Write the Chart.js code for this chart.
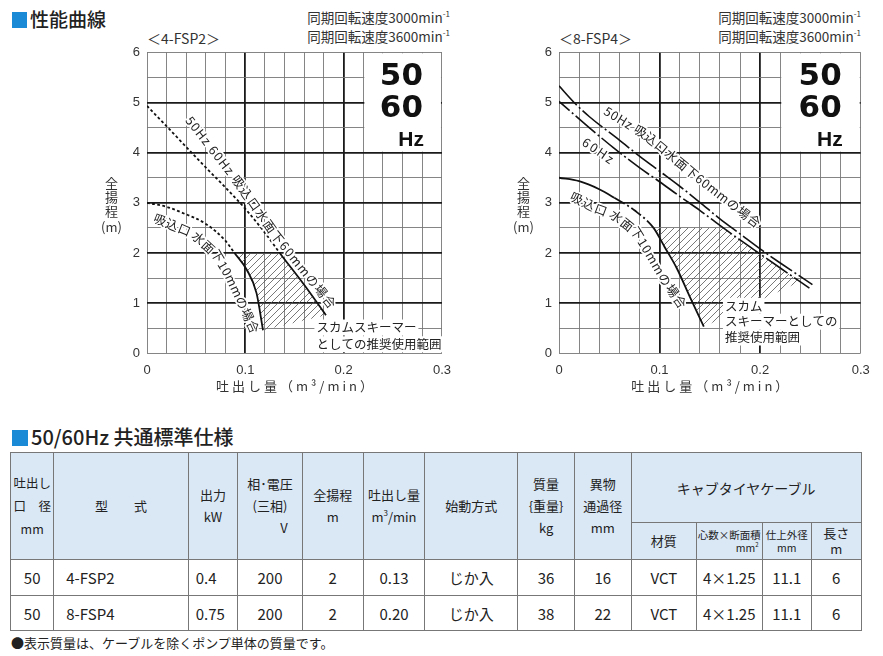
<!DOCTYPE html>
<html>
<head>
<meta charset="utf-8">
<script src="https://cdn.jsdelivr.net/npm/chart.js@4.4.1/dist/chart.umd.min.js"></script>
<style>
body { margin: 0; background: #fff; font-family: 'Noto Sans CJK JP', sans-serif; color: #222; }
#page { position: relative; width: 883px; height: 656px; overflow: hidden; }
.abs { position: absolute; white-space: nowrap; }
.sq { position: absolute; background: #1b8ad6; }
.head { font-size: 19px; font-weight: 500; line-height: 26px; }
.rpm { font-size: 13.5px; line-height: 19px; text-align: right; color: #333; }
.model { font-size: 14px; line-height: 16px; color: #333; }
sup { font-size: 8px; line-height: 0; vertical-align: 6px; }
canvas { position: absolute; top: 0; }
#spec { position: absolute; left: 10px; top: 452px; width: 850.7px; border-collapse: collapse; table-layout: fixed; }
#spec th, #spec td { border: 1px solid #777; padding: 0; text-align: center; font-weight: normal; white-space: nowrap; }
#spec th { background: #dae8f6; font-size: 13px; line-height: 22px; }
#spec th.sm { font-size: 10.5px; line-height: 13px; }
#spec td { font-size: 15px; height: 34.7px; }
#spec td.l { text-align: left; padding-left: 12px; }
#spec td.l2 { text-align: left; padding-left: 7px; }
</style>
</head>
<body>
<div id="page">
  <div class="sq" style="left:12px;top:12px;width:15px;height:16px"></div>
  <div class="abs head" style="left:30px;top:6px">性能曲線</div>
  <div class="abs model" style="left:147px;top:30px">＜4-FSP2＞</div>
  <div class="abs rpm" style="right:433px;top:8px">同期回転速度3000min<sup>-1</sup><br>同期回転速度3600min<sup>-1</sup></div>
  <div class="abs model" style="left:559px;top:30px">＜8-FSP4＞</div>
  <div class="abs rpm" style="right:22px;top:8px">同期回転速度3000min<sup>-1</sup><br>同期回転速度3600min<sup>-1</sup></div>

  <canvas id="fsp2" width="460" height="400" style="left:0"></canvas>
  <canvas id="fsp4" width="443" height="400" style="left:440px"></canvas>

  <div class="sq" style="left:12px;top:430px;width:16px;height:16px"></div>
  <div class="abs head" style="left:31px;top:424px;font-size:20px">50/60Hz 共通標準仕様</div>

  <table id="spec">
    <colgroup>
      <col style="width:43.3px"><col style="width:134.4px"><col style="width:49.6px"><col style="width:64.4px">
      <col style="width:61px"><col style="width:61.6px"><col style="width:93px"><col style="width:56.7px">
      <col style="width:56.7px"><col style="width:65.3px"><col style="width:65.7px"><col style="width:49.3px">
      <col style="width:49.7px">
    </colgroup>
    <thead>
      <tr style="height:70.4px">
        <th rowspan="2" style="font-size:12.5px;line-height:23px">吐出し<br>口　径<br>mm</th>
        <th rowspan="2">型　　式</th>
        <th rowspan="2">出力<br>kW</th>
        <th rowspan="2">相･電圧<br>(三相)<br><span style="padding-left:28px">V</span></th>
        <th rowspan="2">全揚程<br>m</th>
        <th rowspan="2">吐出し量<br>m<sup>3</sup>/min</th>
        <th rowspan="2">始動方式</th>
        <th rowspan="2">質量<br>{重量}<br>kg</th>
        <th rowspan="2">異物<br>通過径<br>mm</th>
        <th colspan="4" style="font-size:14px">キャブタイヤケーブル</th>
      </tr>
      <tr style="height:36.6px">
        <th>材質</th>
        <th class="sm">心数×断面積<div style="text-align:right;padding-right:3px">mm<sup style="font-size:6px;vertical-align:5px">2</sup></div></th>
        <th class="sm">仕上外径<br>mm</th>
        <th style="line-height:16px">長さ<br>m</th>
      </tr>
    </thead>
    <tbody id="rows"></tbody>
  </table>
  <div class="abs" style="left:11px;top:634px;font-size:13px;line-height:18px">●表示質量は、ケーブルを除くポンプ単体の質量です。</div>
</div>

<script>
// axis ticks
const xTicks = [0, 0.1, 0.2, 0.3];
const yTicks = [0, 1, 2, 3, 4, 5, 6];

// 4-FSP2 : discharge (m3/min) / head (m)
const fsp2Deep_q = [0, 0.026, 0.059, 0.082, 0.1, 0.12, 0.135, 0.16, 0.182];
const fsp2Deep_h = [4.93, 4.4, 3.72, 3.26, 2.88, 2.4, 2.0, 1.36, 0.76];
const fsp2Shallow_q = [0, 0.02, 0.036, 0.059, 0.079, 0.089, 0.1016, 0.1114, 0.118];
const fsp2Shallow_h = [3.0, 2.92, 2.8, 2.59, 2.26, 2.0, 1.66, 1.2, 0.46];
const fsp2Range_q = [0.089, 0.135, 0.16, 0.182, 0.118, 0.1114, 0.1016, 0.089];
const fsp2Range_h = [2.0, 2.0, 1.36, 0.76, 0.46, 1.2, 1.66, 2.0];

// 8-FSP4
const fsp4Upper_q = [0, 0.015, 0.03, 0.06, 0.08, 0.1, 0.12, 0.14, 0.16, 0.18, 0.2, 0.22, 0.252];
const fsp4Upper_h = [5.33, 5.0, 4.72, 4.25, 3.93, 3.63, 3.33, 3.01, 2.68, 2.38, 2.08, 1.8, 1.37];
const fsp4Lower_q = [0, 0.03, 0.054, 0.08, 0.1, 0.12, 0.14, 0.16, 0.18, 0.2, 0.22, 0.249];
const fsp4Lower_h = [5.02, 4.5, 4.1, 3.7, 3.42, 3.13, 2.85, 2.55, 2.26, 1.98, 1.7, 1.3];
const fsp4Shallow_q = [0, 0.02, 0.04, 0.055, 0.075, 0.094, 0.105, 0.117, 0.13, 0.144];
const fsp4Shallow_h = [3.5, 3.43, 3.27, 3.1, 2.85, 2.5, 2.12, 1.7, 1.13, 0.53];
const fsp4Range_q = [0.094, 0.1635, 0.18, 0.2, 0.22, 0.24, 0.144, 0.13, 0.117, 0.105, 0.094];
const fsp4Range_h = [2.5, 2.5, 2.26, 1.98, 1.7, 1.43, 0.53, 1.13, 1.7, 2.12, 2.5];

// spec table
const specRows = [
  ['50', '4-FSP2', '0.4', '200', '2', '0.13', 'じか入', '36', '16', 'VCT', '4×1.25', '11.1', '6'],
  ['50', '8-FSP4', '0.75', '200', '2', '0.20', 'じか入', '38', '22', 'VCT', '4×1.25', '11.1', '6']
];

document.getElementById('rows').innerHTML = specRows.map(r =>
  '<tr>' + r.map((v, i) => '<td' + (i === 1 ? ' class="l"' : i === 2 ? ' class="l2"' : '') + '>' + v + '</td>').join('') + '</tr>'
).join('');

function hatchPattern() {
  const c = document.createElement('canvas');
  c.width = c.height = 7;
  const g = c.getContext('2d');
  g.strokeStyle = '#555';
  g.lineWidth = 0.8;
  g.beginPath();
  g.moveTo(-1, 8); g.lineTo(8, -1);
  g.moveTo(-1, 1); g.lineTo(1, -1);
  g.moveTo(6, 8); g.lineTo(8, 6);
  g.stroke();
  return g.createPattern(c, 'repeat');
}
const hatch = hatchPattern();

const pts = (q, h) => q.map((v, i) => ({ x: v, y: h[i] }));

function curve(q, h, extra) {
  return Object.assign({
    data: pts(q, h), showLine: true, pointRadius: 0, borderColor: '#111', borderWidth: 1.8,
    cubicInterpolationMode: 'monotone', fill: false, order: 1
  }, extra);
}
function zone(q, h) {
  return {
    data: pts(q, h), showLine: true, pointRadius: 0, borderWidth: 0, borderColor: 'rgba(0,0,0,0)',
    backgroundColor: hatch, fill: 'shape', tension: 0, order: 10
  };
}

// place characters along a path given in data units
function drawAlong(ctx, chart, path, text) {
  const { x, y } = chart.scales;
  const p = path.map(([q, h]) => [x.getPixelForValue(q), y.getPixelForValue(h)]);
  const lens = [];
  let L = 0;
  for (let i = 1; i < p.length; i++) {
    const l = Math.hypot(p[i][0] - p[i - 1][0], p[i][1] - p[i - 1][1]);
    lens.push(l); L += l;
  }
  const ch = Array.from(text);
  const w = ch.map(c => ctx.measureText(c).width);
  let need = 0;
  for (let i = 1; i < ch.length; i++) need += (w[i - 1] + w[i]) / 2;
  const gap = ch.length > 1 ? (L - need) / (ch.length - 1) : 0;
  const placed = [];
  let s = 0;
  ch.forEach((c, i) => {
    if (i) s += (w[i - 1] + w[i]) / 2 + gap;
    let k = 0, r = s;
    while (k < lens.length - 1 && r > lens[k]) { r -= lens[k]; k++; }
    const t = lens[k] ? r / lens[k] : 0;
    placed.push([c,
      p[k][0] + (p[k + 1][0] - p[k][0]) * t,
      p[k][1] + (p[k + 1][1] - p[k][1]) * t,
      Math.atan2(p[k + 1][1] - p[k][1], p[k + 1][0] - p[k][0])]);
  });
  ['stroke', 'fill'].forEach(pass => placed.forEach(([c, px, py, a]) => {
    ctx.save();
    ctx.translate(px, py);
    ctx.rotate(a);
    if (pass === 'stroke') ctx.strokeText(c, 0, 0); else ctx.fillText(c, 0, 0);
    ctx.restore();
  }));
}

const decoPlugin = {
  id: 'deco',
  beforeDatasetsDraw(chart) {
    const { ctx, chartArea: a, scales: { x, y } } = chart;
    const bx = x.getPixelForValue(0.22), by = y.getPixelForValue(4);
    ctx.save();
    ctx.fillStyle = '#fff';
    ctx.fillRect(bx + 1, a.top + 1, a.right - bx - 2, by - a.top - 2);
    ctx.restore();
  },
  afterDatasetsDraw(chart, args, o) {
    const { ctx, chartArea: a, scales: { x, y } } = chart;
    ctx.save();
    // frequency mark
    ctx.fillStyle = '#111';
    ctx.textAlign = 'right';
    ctx.textBaseline = 'middle';
    ctx.font = 'bold 31px "DejaVu Sans"';
    ctx.fillText('50', a.right - 19, 77);
    ctx.fillText('60', a.right - 19, 109);
    ctx.font = 'bold 21px "Liberation Sans"';
    ctx.fillText('Hz', a.right - 18, 140);

    // curve labels
    ctx.font = '12.5px "Noto Sans CJK JP"';
    ctx.textAlign = 'center';
    ctx.strokeStyle = '#fff';
    ctx.lineWidth = 3.5;
    ctx.lineJoin = 'round';
    ctx.fillStyle = '#222';
    o.labels.forEach(l => drawAlong(ctx, chart, l.path, l.text));

    // recommended range note
    ctx.textAlign = 'left';
    o.note.forEach(n => {
      const px = x.getPixelForValue(n.q), py = y.getPixelForValue(n.h);
      const w = ctx.measureText(n.text).width;
      ctx.fillStyle = '#fff';
      ctx.fillRect(px - 2, py - 8, w + 4, 16);
      ctx.fillStyle = '#222';
      ctx.fillText(n.text, px, py);
    });

    // axis titles
    ctx.fillStyle = '#333';
    ctx.font = '13px "Noto Sans CJK JP"';
    ctx.textAlign = 'center';
    const tx = a.left - 35.5;
    [['全', 183.5], ['揚', 197.5], ['程', 211.5], ['(m)', 227]].forEach(([t, ty]) => ctx.fillText(t, tx, ty));
    ctx.letterSpacing = '3px';
    ctx.fillText('吐出し量（m³/min）', (a.left + a.right) / 2 + 1.5, 386.5);
    ctx.letterSpacing = '0px';
    ctx.restore();
  }
};

const majorX = v => Math.abs(v * 10 - Math.round(v * 10)) < 1e-6 && v > 0.001 && v < 0.299;
const majorY = v => Number.isInteger(v) && v > 0 && v < 6;

function makeChart(id, padLeft, padRight, datasets, deco) {
  return new Chart(document.getElementById(id), {
    type: 'scatter',
    data: { datasets },
    options: {
      responsive: false,
      animation: false,
      layout: { padding: { left: padLeft, right: padRight, top: 52.3, bottom: 0 } },
      plugins: { legend: { display: false }, tooltip: { enabled: false }, deco },
      scales: {
        x: {
          type: 'linear', min: 0, max: 0.3,
          border: { display: false },
          afterFit: s => { s.height = 46.7; },
          ticks: {
            stepSize: 0.02, autoSkip: false, maxRotation: 0, padding: 9, color: '#333',
            font: { family: 'Liberation Sans', size: 13 },
            callback: v => xTicks.includes(+(+v).toFixed(2)) ? (+v === 0 ? '0' : (+v).toFixed(1)) : ''
          },
          grid: {
            drawTicks: false,
            color: c => majorX(c.tick.value) ? '#1a1a1a' : '#777',
            lineWidth: c => majorX(c.tick.value) ? 1.8 : 0.9
          }
        },
        y: {
          type: 'linear', min: 0, max: 6,
          border: { display: false },
          afterFit: s => { s.width = 40; },
          ticks: {
            stepSize: 0.5, padding: 7, color: '#333',
            font: { family: 'Liberation Sans', size: 13 },
            callback: v => yTicks.includes(+v) ? String(v) : ''
          },
          grid: {
            drawTicks: false,
            color: c => majorY(c.tick.value) ? '#1a1a1a' : '#777',
            lineWidth: c => majorY(c.tick.value) ? 1.8 : 0.9
          }
        }
      }
    },
    plugins: [decoPlugin]
  });
}

const dottedAbove2 = { segment: { borderDash: c => c.p0.parsed.y > 2.001 ? [2.8, 2.4] : undefined } };

makeChart('fsp2', 107, 11, [
  zone(fsp2Range_q, fsp2Range_h),
  curve(fsp2Deep_q, fsp2Deep_h, dottedAbove2),
  curve(fsp2Shallow_q, fsp2Shallow_h, dottedAbove2)
], {
  labels: [
    { text: '50Hz 60Hz 吸込口水面下60mmの場合', path: [[0.0445, 4.64], [0.0927, 3.42], [0.1326, 2.32], [0.1855, 1.03]] },
    { text: '吸込口 水面下10mmの場合', path: [[0.0132, 2.66], [0.038, 2.46], [0.0513, 2.32], [0.0712, 1.96], [0.085, 1.5], [0.1077, 0.53]] }
  ],
  note: [
    { text: 'スカムスキーマー', q: 0.1723, h: 0.514 },
    { text: 'としての推奨使用範囲', q: 0.1723, h: 0.18 }
  ]
});

makeChart('fsp4', 79, 22.3, [
  zone(fsp4Range_q, fsp4Range_h),
  curve(fsp4Upper_q, fsp4Upper_h, { borderWidth: 1.6, borderDash: [26, 3, 2, 3] }),
  curve(fsp4Lower_q, fsp4Lower_h, { borderWidth: 1.6, borderDash: [26, 3, 2, 3], borderDashOffset: 12 }),
  curve(fsp4Shallow_q, fsp4Shallow_h, {
    segment: { borderDash: c => (c.p0.parsed.x >= 0.0549 && c.p1.parsed.x <= 0.0941) ? [12, 3, 2, 3] : undefined }
  })
], {
  labels: [
    { text: '50Hz 吸込口水面下60mmの場合', path: [[0.049, 4.82], [0.0872, 4.35], [0.135, 3.56], [0.194, 2.64]] },
    { text: '60Hz', path: [[0.0275, 4.2], [0.0507, 3.88]] },
    { text: '吸込口 水面下10mmの場合', path: [[0.0176, 3.09], [0.0375, 2.89], [0.0557, 2.75], [0.0773, 2.41], [0.0889, 2.03], [0.1054, 1.46], [0.1203, 1.03]] }
  ],
  note: [
    { text: 'スカム', q: 0.165, h: 0.947 },
    { text: 'スキーマーとしての', q: 0.165, h: 0.63 },
    { text: '推奨使用範囲', q: 0.165, h: 0.315 }
  ]
});
</script>
</body>
</html>
